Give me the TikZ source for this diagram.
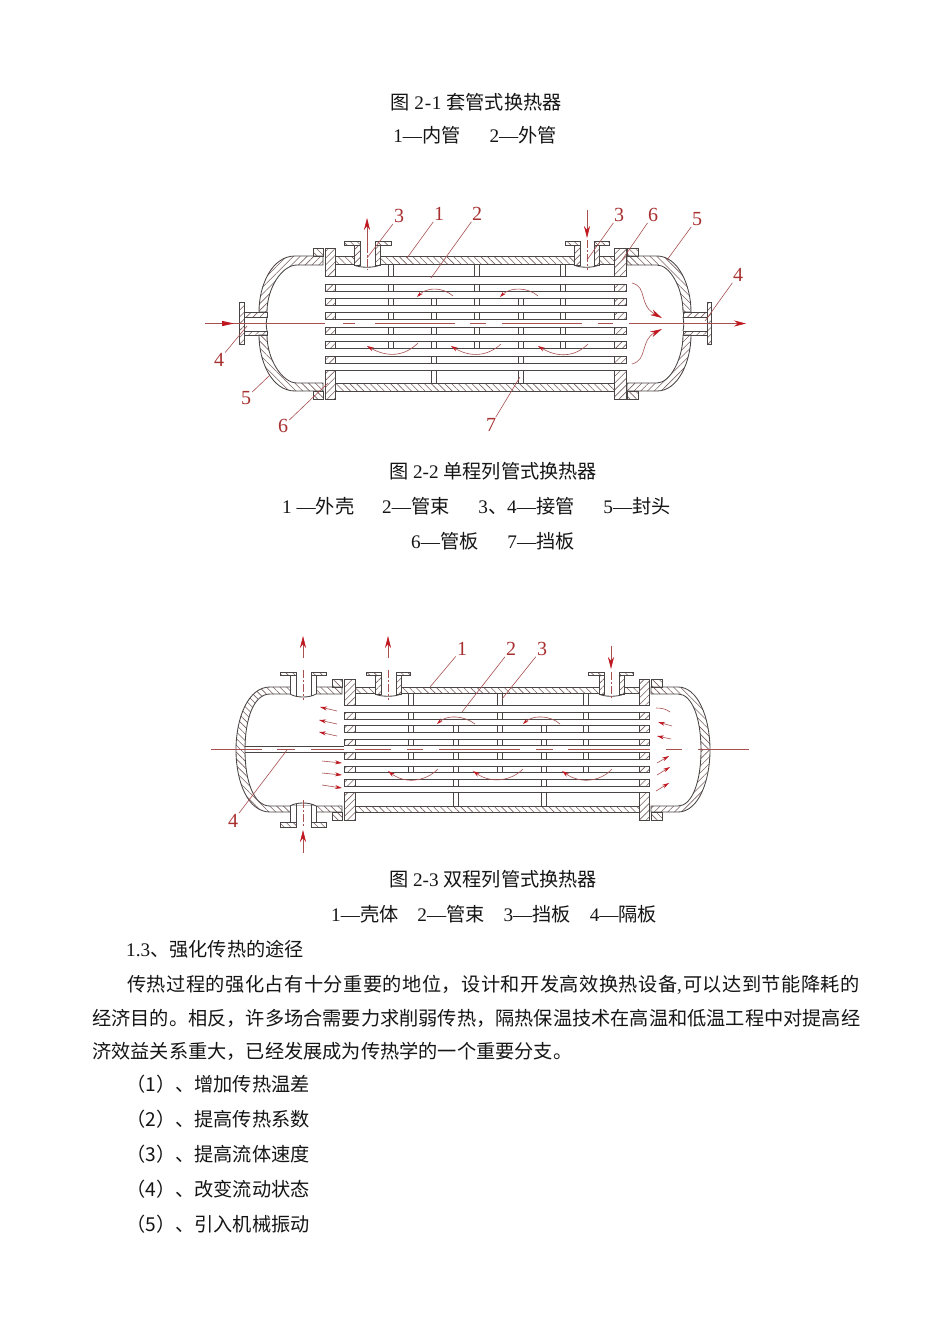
\documentclass[tikz,border=0pt]{standalone}
\usepackage{fontspec}
\setmainfont{Liberation Serif}
\newfontfamily\cjk{Noto Sans CJK SC}
\newfontfamily\cjkwide[LetterSpace=2.4]{Noto Sans CJK SC}
\usetikzlibrary{arrows.meta,patterns.meta}
\definecolor{ink}{HTML}{4A4545}
\definecolor{hatchcol}{HTML}{7A6262}
\definecolor{leader}{HTML}{A85050}
\definecolor{labelred}{HTML}{A83030}
\definecolor{headred}{HTML}{C01820}
\definecolor{txt}{HTML}{151515}
\newcommand{\zh}[1]{{\cjk #1}}
\tikzset{
  body/.style={draw=ink,line width=.85pt},
  hatchA/.style={pattern={Lines[angle=45,distance=4.8pt,line width=.6pt]},pattern color=hatchcol},
  hatchB/.style={pattern={Lines[angle=-45,distance=4.8pt,line width=.6pt]},pattern color=hatchcol},
  thinred/.style={draw=leader,line width=.6pt},
  flowtip/.style={thinred,-{Stealth[length=7pt,width=4pt,color=headred]}},
  backtip/.style={thinred,{Stealth[length=6pt,width=3.5pt,color=headred]}-},
  bigtip/.style={thinred,-{Stealth[length=12pt,width=6pt,color=headred]}},
  para/.style={anchor=base west,inner sep=0pt,text=txt,font=\fontsize{19.2}{19.2}\selectfont},
  captext/.style={anchor=base,inner sep=0pt,text=txt,font=\fontsize{19.2}{19.2}\selectfont},
  num/.style={inner sep=1pt,text=labelred,font=\fontsize{20}{20}\selectfont},
}
% label node + free end coordinate + leader between them
\newcommand{\callout}[5]{%
  \node[num] (l#1) at (#3) {#2};
  \coordinate (e#1) at (#4);
  \draw[thinred] (#5) -- (e#1);
}
% tube bundle
\newcommand{\tubes}[5]{% x0,x1,top,pitch,width
  \foreach \k in {0,...,6}{
    \draw[body] (#1,{#3+\k*#4}) -- (#2,{#3+\k*#4});
    \draw[body] (#1,{#3+\k*#4+#5}) -- (#2,{#3+\k*#4+#5});
  }
}
% tube sheet: hatched pieces between tubes. x0,x1,sheettop,sheetbottom,top,pitch,width
\newcommand{\sheet}[7]{%
  \draw[body,hatchA] (#1,#3) rectangle (#2,#5);
  \foreach \k in {0,...,5}{
    \draw[body,hatchA] (#1,{#5+\k*#6+#7}) rectangle (#2,{#5+(\k+1)*#6});
  }
  \draw[body,hatchA] (#1,{#5+6*#6+#7}) rectangle (#2,#4);
}
% baffle from the shell top: xa,xb,shellinner,top,pitch,width
\newcommand{\baffleU}[6]{%
  \foreach \xx in {#1,#2}{
    \draw[body] (\xx,#3) -- (\xx,#4);
    \foreach \k in {0,...,4}{
      \draw[body] (\xx,{#4+\k*#5+#6}) -- (\xx,{#4+(\k+1)*#5});
    }
  }
}
% baffle from the shell bottom
\newcommand{\baffleL}[6]{%
  \foreach \xx in {#1,#2}{
    \draw[body] (\xx,{#4+6*#5+#6}) -- (\xx,#3);
    \foreach \k in {1,...,5}{
      \draw[body] (\xx,{#4+\k*#5+#6}) -- (\xx,{#4+(\k+1)*#5});
    }
  }
}
\begin{document}
\begin{tikzpicture}[x=1pt,y=-1pt]
\useasboundingbox (0,0) rectangle (950,1344);
\fill[white] (0,0) rectangle (950,1344);

%%%%%%%%%%%%%%% FIGURE 2-2
% shell
\draw[body,hatchB] (335,256) rectangle (614,264);
\draw[body,hatchB] (335,383) rectangle (614,391);
\fill[white] (354,255) rectangle (380,265);
\fill[white] (574,255) rectangle (599,265);
% left head
\draw[body,hatchA] (323,256) -- (295,256) .. controls (272,256) and (259,285) .. (259,312)
  -- (267,312) .. controls (267,288) and (282,265) .. (297,265) -- (323,265) -- cycle;
\draw[body,hatchB] (323,391) -- (295,391) .. controls (272,391) and (259,362) .. (259,335)
  -- (267,335) .. controls (267,359) and (282,383) .. (297,383) -- (323,383) -- cycle;
\draw[body,hatchB] (313,248) rectangle (323,256);
\draw[body,hatchB] (313,391) rectangle (323,399);
% left end nozzle
\draw[body,hatchA] (244,312) rectangle (267,317);
\draw[body,hatchA] (244,331) rectangle (267,335);
\draw[body,hatchA] (239,302) rectangle (244,344);
\draw[body] (267,317) .. controls (266,322) and (266,326) .. (267,331);
% right head
\draw[body,hatchB] (627,256) -- (657,256) .. controls (678,256) and (691,285) .. (691,312)
  -- (683,312) .. controls (683,288) and (670,265) .. (657,265) -- (627,265) -- cycle;
\draw[body,hatchA] (627,391) -- (657,391) .. controls (678,391) and (691,362) .. (691,335)
  -- (683,335) .. controls (683,359) and (670,383) .. (657,383) -- (627,383) -- cycle;
\draw[body,hatchB] (627,248) rectangle (638,256);
\draw[body,hatchB] (627,391) rectangle (638,399);
% right end nozzle
\draw[body,hatchA] (683,312) rectangle (707,317);
\draw[body,hatchA] (683,331) rectangle (707,335);
\draw[body,hatchA] (707,302) rectangle (711,344);
\draw[body] (683,317) .. controls (684,322) and (684,326) .. (683,331);
% tubes, sheets, baffles
\tubes{325}{626}{276.7}{14.4}{7.3}
\sheet{325}{335}{248}{399}{276.7}{14.4}{7.3}
\sheet{614}{626}{248}{399}{276.7}{14.4}{7.3}
\baffleU{388}{393}{264}{276.7}{14.4}{7.3}
\baffleU{474}{479}{264}{276.7}{14.4}{7.3}
\baffleU{560}{565}{264}{276.7}{14.4}{7.3}
\baffleL{431}{436}{383}{276.7}{14.4}{7.3}
\baffleL{518}{523}{383}{276.7}{14.4}{7.3}
% side nozzles on the shell
\draw[body,hatchA] (354,245) rectangle (360,265);
\draw[body,hatchA] (375,245) rectangle (380,265);
\draw[body,hatchB] (344,241) rectangle (360,245);
\draw[body,hatchB] (375,241) rectangle (391,245);
\draw[body] (354,265) .. controls (360,268) and (374,268) .. (380,265);
\draw[body,hatchA] (574,245) rectangle (580,265);
\draw[body,hatchA] (594,245) rectangle (599,265);
\draw[body,hatchB] (565,241) rectangle (580,245);
\draw[body,hatchB] (594,241) rectangle (609,245);
\draw[body] (574,265) .. controls (580,268) and (593,268) .. (599,265);
% axis
\coordinate (a1s) at (205,323.5);
\coordinate (a1e) at (325,323.5);
\draw[thinred] (a1s) -- (a1e);
\fill[headred] (222,320.8) -- (234,323.5) -- (222,326.2) -- cycle;
\foreach \a/\b in {343/355,375/455,470/486,502/582,598/613}{
  \draw[thinred] (\a,323.5) -- (\b,323.5);
}
\coordinate (a2s) at (629,323.5);
\coordinate (a2e) at (746,323.5);
\draw[bigtip] (a2s) -- (a2e);
% shell nozzle flow
\coordinate (n1s) at (367,245);
\coordinate (n1e) at (367,218);
\draw[bigtip] (n1s) -- (n1e);
\draw[thinred,dash pattern=on 8pt off 2pt on 2pt off 2pt] (367,245) -- (367,270);
\coordinate (n2s) at (587,210);
\coordinate (n2e) at (587,238);
\draw[bigtip] (n2s) -- (n2e);
\draw[thinred,dash pattern=on 8pt off 2pt on 2pt off 2pt] (587,240) -- (587,270);
% flow arcs
\draw[backtip] (417,297) .. controls (427,287) and (443,287) .. (453,296);
\draw[backtip] (500,297) .. controls (510,287) and (528,287) .. (538,296);
\draw[flowtip] (418,343) .. controls (405,356) and (388,358) .. (367,346);
\draw[flowtip] (501,344) .. controls (488,356) and (471,358) .. (451,346);
\draw[flowtip] (588,344) .. controls (575,357) and (558,358) .. (538,346);
\draw[bigtip] (632,283) .. controls (648,287) and (638,305) .. (662,318);
\draw[bigtip] (632,364) .. controls (648,360) and (640,340) .. (662,329);
% labels
\callout{A3}{3}{399,216}{367,258}{lA3}
\callout{A1}{1}{439,214}{407,258}{lA1}
\callout{A2}{2}{477,214}{431,278}{lA2}
\callout{A4}{4}{219,360}{247,326}{lA4}
\callout{A5}{5}{246,398}{270,375}{lA5}
\callout{A6}{6}{283,426}{328,383}{lA6}
\callout{A3r}{3}{619,215}{587,260}{lA3r}
\callout{A6r}{6}{653,215}{622,260}{lA6r}
\callout{A5r}{5}{697,219}{667,260}{lA5r}
\callout{A4r}{4}{738,275}{705,321}{lA4r}
\callout{A7}{7}{491,425}{520,377}{lA7}

%%%%%%%%%%%%%%% FIGURE 2-3
% shell
\draw[body,hatchB] (355,687) rectangle (639,693);
\draw[body,hatchB] (355,806) rectangle (639,812);
\fill[white] (375,686) rectangle (401,694);
\fill[white] (599,686) rectangle (624,694);
% left head
\draw[body,hatchB] (342,687) -- (270,687) .. controls (248,687) and (236,718) .. (236,750)
  .. controls (236,782) and (248,812) .. (270,812) -- (342,812) -- (342,806) -- (270,806)
  .. controls (254,806) and (245,782) .. (245,750) .. controls (245,718) and (254,694) .. (270,694)
  -- (342,694) -- cycle;
\fill[white] (290.4,686) rectangle (315.6,694.5);
\fill[white] (290.4,805.5) rectangle (315.6,813);
\draw[body] (290,687) -- (290,694) (316,687) -- (316,694) (290,806) -- (290,812) (316,806) -- (316,812);
\draw[body,hatchB] (332,679) rectangle (342,687);
\draw[body,hatchB] (332,812) rectangle (342,820);
% right head
\path[hatchB] (651,687) -- (678,687) .. controls (698,687) and (710,718) .. (710,750)
  -- (701,750) .. controls (701,718) and (692,694) .. (678,694) -- (651,694) -- cycle;
\path[hatchA] (651,812) -- (678,812) .. controls (698,812) and (710,782) .. (710,750)
  -- (701,750) .. controls (701,782) and (692,806) .. (678,806) -- (651,806) -- cycle;
\draw[body] (651,687) -- (678,687) .. controls (698,687) and (710,718) .. (710,750)
  .. controls (710,782) and (698,812) .. (678,812) -- (651,812) -- (651,806) -- (678,806)
  .. controls (692,806) and (701,782) .. (701,750) .. controls (701,718) and (692,694) .. (678,694)
  -- (651,694) -- cycle;
\draw[body,hatchB] (651,679) rectangle (662,687);
\draw[body,hatchB] (651,812) rectangle (662,820);
% tubes, sheets, baffles
\tubes{344}{649}{705.7}{13.4}{6.7}
\draw[body] (245,746.5) -- (344,746.5) (245,752.5) -- (344,752.5);
\sheet{344}{355}{679}{820}{705.7}{13.4}{6.7}
\sheet{639}{649}{679}{820}{705.7}{13.4}{6.7}
\baffleU{408}{413}{693}{705.7}{13.4}{6.7}
\baffleU{497}{502}{693}{705.7}{13.4}{6.7}
\baffleU{583}{588}{693}{705.7}{13.4}{6.7}
\baffleL{453}{458}{806}{705.7}{13.4}{6.7}
\baffleL{541}{546}{806}{705.7}{13.4}{6.7}
% left nozzles, no hatch
\draw[body] (290,675) -- (290,694) (296,675) -- (296,696) (311,675) -- (311,696) (316,675) -- (316,694);
\draw[body,hatchB] (280,672) rectangle (296,675);
\draw[body,hatchB] (311,672) rectangle (326,675);
\draw[body] (290,694) .. controls (296,698) and (310,698) .. (316,694);
\draw[body] (290,806) -- (290,822) (296,804) -- (296,822) (311,804) -- (311,822) (316,806) -- (316,822);
\draw[body,hatchB] (280,822) rectangle (296,827);
\draw[body,hatchB] (311,822) rectangle (326,827);
\draw[body] (290,806) .. controls (296,802) and (310,802) .. (316,806);
% second and third top nozzles
\draw[body,hatchA] (375,675) rectangle (381,694);
\draw[body,hatchA] (396,675) rectangle (401,694);
\draw[body,hatchB] (366,672) rectangle (381,675);
\draw[body,hatchB] (396,672) rectangle (410,675);
\draw[body] (375,694) .. controls (381,697) and (395,697) .. (401,694);
\draw[body,hatchA] (599,675) rectangle (604,694);
\draw[body,hatchA] (619,675) rectangle (624,694);
\draw[body,hatchB] (588,672) rectangle (604,675);
\draw[body,hatchB] (619,672) rectangle (633,675);
\draw[body] (599,694) .. controls (604,697) and (618,697) .. (624,694);
% axis
\foreach \a/\b in {211/247,247/262,277/295,311/344,355/391,407/423,439/520,536/553,568/650,666/682,698/749}{
  \draw[thinred] (\a,749.7) -- (\b,749.7);
}
% nozzle flows
\foreach \n/\xa/\ya/\xb/\yb in {p/303/658/303/636,q/388/658/388/636,r/303/853/303/830,s/611/646/611/669}{
  \coordinate (\n s) at (\xa,\ya);
  \coordinate (\n e) at (\xb,\yb);
  \draw[bigtip] (\n s) -- (\n e);
}
\foreach \xx/\ya/\yb in {303/670/700,388/670/700,303/800/826,611/672/700}{
  \draw[thinred,dash pattern=on 8pt off 2pt on 2pt off 2pt] (\xx,\ya) -- (\xx,\yb);
}
% flow arcs
\draw[backtip] (437,724) .. controls (447,715) and (463,715) .. (475,724);
\draw[backtip] (523,724) .. controls (533,715) and (550,715) .. (560,724);
\draw[flowtip] (438,769) .. controls (425,782) and (405,784) .. (388,771);
\draw[flowtip] (523,769) .. controls (510,782) and (490,783) .. (473,771);
\draw[flowtip] (612,769) .. controls (600,782) and (580,784) .. (562,771);
% small arrows
\foreach \xa/\ya/\xb/\yb in {337/711/320/707,337/724/319/720,337/736/319/732,322/761/342/763,322/773/342/775,322/785/342/788}{
  \draw[flowtip] (\xa,\ya) -- (\xb,\yb);
}
\draw[thinred] (656,708) .. controls (662,708) and (666,709) .. (670,712);
\foreach \xa/\ya/\xb/\yb in {672/726/658/722,671/739/657/736,657/763/669/756,657/775/670/767,656/791/669/783}{
  \draw[flowtip] (\xa,\ya) -- (\xb,\yb);
}
% labels
\callout{B1}{1}{462,649}{430,687}{lB1}
\callout{B2}{2}{511,649}{462,712}{lB2}
\callout{B3}{3}{542,649}{502,699}{lB3}
\callout{B4}{4}{233,821}{287,750}{lB4}

%%%%%%%%%%%%%%% TEXT
\node[captext] (t1) at (476,109.7) {\zh{图} 2\kern.8pt-\kern.8pt1 \zh{套管式换热器}};
\node[captext] (t2) at (475,142.7) {1—\zh{内管}\hspace{29pt}2—\zh{外管}};
\node[captext] (t4) at (493,478.7) {\zh{图} 2-2 \zh{单程列管式换热器}};
\node[para] (t5) at (282,513.7) {1 —\zh{外壳}\hspace{28pt}2—\zh{管束}\hspace{29pt}3\zh{、}4—\zh{接管}\hspace{29pt}5—\zh{封头}};
\node[para] (t6) at (411,548.7) {6—\zh{管板}\hspace{29pt}7—\zh{挡板}};
\node[captext] (t7) at (493,886.7) {\zh{图} 2-3 \zh{双程列管式换热器}};
\node[para] (t8) at (331,921.7) {1—\zh{壳体}\hspace{19pt}2—\zh{管束}\hspace{19pt}3—\zh{挡板}\hspace{19pt}4—\zh{隔板}};
\node[para] (t9) at (126,956.7) {1.3\zh{、强化传热的途径}};
\node[para] (t10) at (127,991.7) {{\cjkwide 传热过程的强化占有十分重要的地位，设计和开发高效换热设备},};
\node[para,anchor=base east] (t10b) at (860,991.7) {{\cjkwide 可以达到节能降耗的}};
\node[para] (t11) at (92,1025.7) {\zh{经济目的。相反，许多场合需要力求削弱传热，隔热保温技术在高温和低温工程中对提高经}};
\node[para] (t12) at (92,1058.7) {\zh{济效益关系重大，已经发展成为传热学的一个重要分支。}};
\node[para] (t13) at (126,1091.7) {\zh{（1）、增加传热温差}};
\node[para] (t14) at (126,1126.7) {\zh{（2）、提高传热系数}};
\node[para] (t15) at (126,1161.7) {\zh{（3）、提高流体速度}};
\node[para] (t16) at (126,1196.7) {\zh{（4）、改变流动状态}};
\node[para] (t17) at (126,1231.7) {\zh{（5）、引入机械振动}};
\end{tikzpicture}
\end{document}
